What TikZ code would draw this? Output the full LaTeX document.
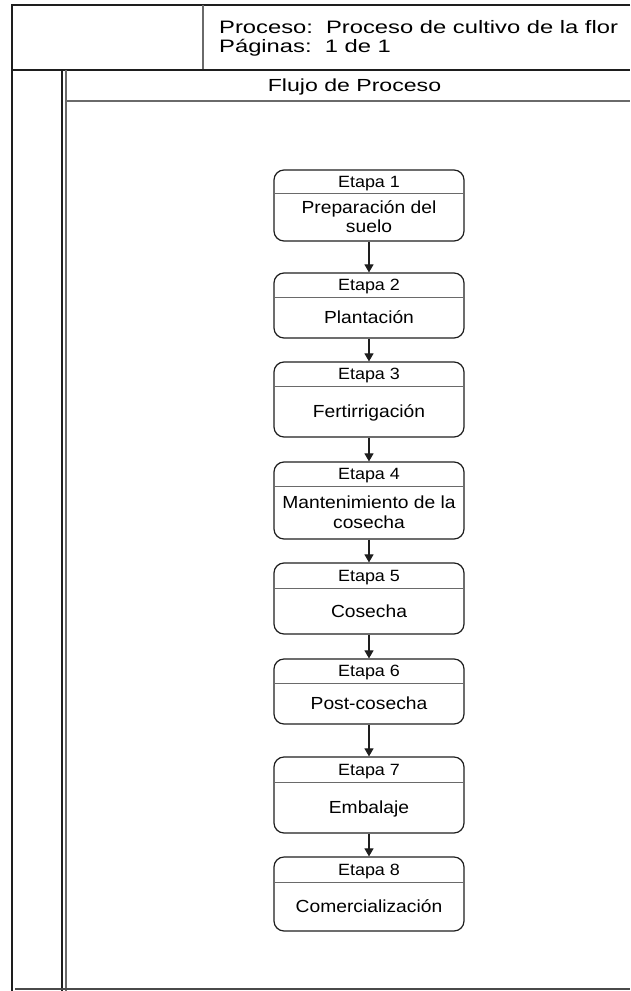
\documentclass[tikz,border=0pt]{standalone}
\usepackage{fontspec}
\setmainfont{Liberation Sans}[FakeStretch=1.1]
\newfontfamily\headfont{Liberation Sans}[FakeStretch=1.32]
\usetikzlibrary{arrows.meta}

\definecolor{frameline}{HTML}{1E1E1E}
\definecolor{softline}{HTML}{6A6A6A}

\tikzset{
  frame/.style={draw=frameline, line width=1.8pt},
  thin frame/.style={draw=softline, line width=1.4pt},
  stagebox/.style={draw=frameline, line width=1.2pt, rounded corners=10pt,
    minimum width=190pt, inner sep=0pt},
  sepline/.style={draw=softline, line width=1pt},
  titletext/.style={inner sep=0pt, anchor=base, font=\fontsize{16.3}{18}\selectfont},
  bodytext/.style={inner sep=0pt, anchor=base, font=\fontsize{17.5}{19.5}\selectfont},
  headtext/.style={inner sep=0pt, anchor=base west, font=\headfont\fontsize{18}{19}\selectfont},
  flowtext/.style={inner sep=0pt, anchor=base, font=\headfont\fontsize{17.5}{19}\selectfont},
  flow/.style={draw=frameline, line width=1.1pt,
    -{Triangle[length=8pt, width=9pt]}},
}

% stage frame: name, top, separator, bottom, title
\newcommand\stageframe[5]{%
  \node[stagebox, minimum height={#4-#2}] (#1) at (369,{(#2+#4)/2}) {};
  \draw[sepline] (275,#3) -- (463,#3);
  \node[titletext] (#1t) at (369,{(#2+#3)/2+5.8}) {#5};
}
% stage with a one-line body
\newcommand\stage[6]{%
  \stageframe{#1}{#2}{#3}{#4}{#5}%
  \node[bodytext] (#1b) at (369,{(#3+#4)/2+6}) {#6};
}
% stage with a two-line body
\newcommand\stagetwo[7]{%
  \stageframe{#1}{#2}{#3}{#4}{#5}%
  \node[bodytext] (#1b) at (369,{(#3+#4)/2+6-9.7}) {#6};
  \node[bodytext] (#1c) at (369,{(#3+#4)/2+6+9.7}) {#7};
}

\begin{document}
\begin{tikzpicture}[x=1pt, y=-1pt]
\useasboundingbox (0,0) rectangle (630,991);

% page frame and header grid
\coordinate (tl) at (12,5);
\coordinate (tr) at (630,5);
\coordinate (bl) at (12,991);
\draw[frame] (tr) -- (tl) -- (bl);
\draw[thin frame] (203,5) -- (203,70);
\draw[frame] (12,70) -- (630,70);
\draw[frame, line width=1.3pt] (62,70) -- (62,991);
\draw[thin frame] (66,70) -- (66,991);
\draw[thin frame] (66,101) -- (630,101);
\draw[frame, draw=softline!70!black] (15,989) -- (630,989);

% header texts
\node[headtext] (hdr1) at (219,33) {Proceso:\ \ Proceso de cultivo de la flor};
\node[headtext] (hdr2) at (219,52) {Páginas:\ \ 1 de 1};
\node[flowtext] (flowtitle) at (354.5,91) {Flujo de Proceso};

% stages
\stagetwo{s1}{170}{193}{241}{Etapa 1}{Preparación del}{suelo}
\stage{s2}{273}{297}{338}{Etapa 2}{Plantación}
\stage{s3}{362}{386}{437}{Etapa 3}{Fertirrigación}
\stagetwo{s4}{462}{486}{539}{Etapa 4}{Mantenimiento de la}{cosecha}
\stage{s5}{563}{588}{634}{Etapa 5}{Cosecha}
\stage{s6}{659}{683}{724}{Etapa 6}{Post-cosecha}
\stage{s7}{757}{782}{833}{Etapa 7}{Embalaje}
\stage{s8}{857}{882}{931}{Etapa 8}{Comercialización}

% connectors
\foreach \a/\b in {s1/s2, s2/s3, s3/s4, s4/s5, s5/s6, s6/s7, s7/s8}
  \draw[flow] (\a.south) -- (\b.north);
\end{tikzpicture}
\end{document}
